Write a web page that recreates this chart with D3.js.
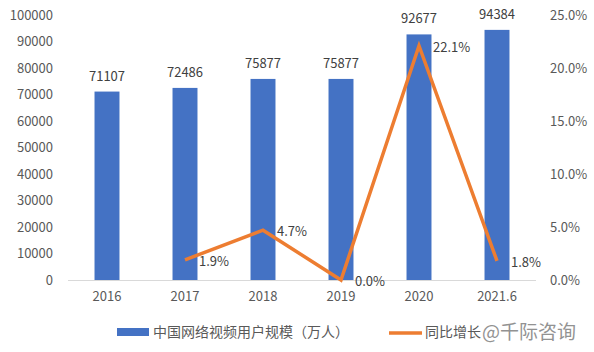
<!DOCTYPE html>
<html><head><meta charset="utf-8">
<script src="https://cdn.jsdelivr.net/npm/d3@7"></script>
<style>body{margin:0;background:#fff;} text{font-family:"Noto Sans CJK SC","Noto Sans",sans-serif;}</style>
</head><body>
<svg id="c" width="594" height="352"></svg>
<script>
const categories = ["2016","2017","2018","2019","2020","2021.6"];
const users = [71107,72486,75877,75877,92677,94384];
const growth = [null,1.9,4.7,0.0,22.1,1.8];
const leftTicks = [0,10000,20000,30000,40000,50000,60000,70000,80000,90000,100000];
const rightTicks = [0,5,10,15,20,25];

const svg = d3.select("#c");
const x = d3.scaleBand().domain(categories).range([68,536]).paddingInner(0.68).paddingOuter(0.34);
const y = d3.scaleLinear().domain([0,100000]).range([280,15]);
const y2 = d3.scaleLinear().domain([0,25]).range([280,15]);
const txt = "#595959";

// left axis
const la = svg.append("g").attr("transform","translate(56,0)")
  .call(d3.axisLeft(y).tickValues(leftTicks).tickSize(0).tickPadding(3).tickFormat(d3.format("d")));
la.select(".domain").remove();
la.selectAll("text").attr("font-size",13).attr("fill",txt).attr("font-family","Noto Sans CJK SC");

const ra = svg.append("g").attr("transform","translate(548,0)")
  .call(d3.axisRight(y2).tickValues(rightTicks).tickSize(0).tickPadding(2).tickFormat(d=>d.toFixed(1)+"%"));
ra.select(".domain").remove();
ra.selectAll("text").attr("font-size",13).attr("fill",txt).attr("font-family","Noto Sans CJK SC");

// bars
svg.append("g").selectAll("rect").data(categories).join("rect")
  .attr("x",d=>x(d)).attr("width",x.bandwidth())
  .attr("y",(d,i)=>y(users[i])).attr("height",(d,i)=>y(0)-y(users[i]))
  .attr("fill","#4472C4");

// baseline
svg.append("line").attr("x1",68).attr("x2",536).attr("y1",y(0)+0.5).attr("y2",y(0)+0.5)
  .attr("stroke","#D9D9D9").attr("stroke-width",1);

// x axis labels
const xa = svg.append("g").attr("transform","translate(0,"+(y(0))+")")
  .call(d3.axisBottom(x).tickSize(0).tickPadding(12));
xa.select(".domain").remove();
xa.selectAll("text").attr("font-size",13).attr("fill",txt).attr("font-family","Noto Sans CJK SC");

// bar labels
svg.append("g").selectAll("text").data(categories).join("text")
  .attr("x",d=>x(d)+x.bandwidth()/2).attr("y",(d,i)=>y(users[i])-11)
  .attr("text-anchor","middle").attr("font-size",13).attr("fill","#404040")
  .text((d,i)=>users[i]);

// line
const pts = categories.map((c,i)=>({c,v:growth[i]})).filter(p=>p.v!==null);
svg.append("path").datum(pts)
  .attr("d",d3.line().x(p=>x(p.c)+x.bandwidth()/2).y(p=>y2(p.v)))
  .attr("fill","none").attr("stroke","#ED7D31").attr("stroke-width",3.5).attr("stroke-linejoin","miter");

svg.append("g").selectAll("text").data(pts).join("text")
  .attr("x",p=>x(p.c)+x.bandwidth()/2+14).attr("y",p=>y2(p.v)+6)
  .attr("font-size",13).attr("fill","#404040")
  .text(p=>p.v.toFixed(1)+"%");

// legend
svg.append("rect").attr("x",117).attr("y",328).attr("width",32).attr("height",8).attr("fill","#4472C4");
svg.append("text").attr("x",153).attr("y",337).attr("font-size",14).attr("fill",txt).text("中国网络视频用户规模（万人）");
svg.append("line").attr("x1",389).attr("x2",422).attr("y1",333).attr("y2",333).attr("stroke","#ED7D31").attr("stroke-width",3.5);
svg.append("text").attr("x",425).attr("y",337).attr("font-size",14).attr("fill",txt).text("同比增长");
svg.append("text").attr("x",482).attr("y",339).attr("font-size",19).attr("fill","#7f7f7f").attr("opacity",0.85).text("@千际咨询");
</script>
</body></html>
